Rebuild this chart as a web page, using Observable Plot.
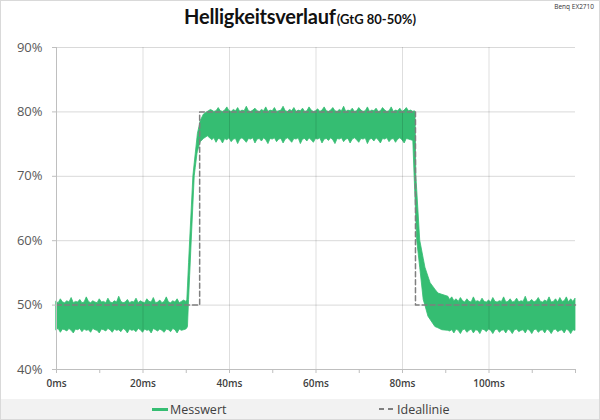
<!DOCTYPE html>
<html>
<head>
<meta charset="utf-8">
<script src="https://cdn.jsdelivr.net/npm/d3@7"></script>
<script src="https://cdn.jsdelivr.net/npm/@observablehq/plot@0.6"></script>
<style>
  html, body { margin: 0; padding: 0; background: #fff; }
  #wrap { position: relative; width: 600px; height: 420px; overflow: hidden; background: #fff; }
  #frame { position: absolute; left: 0; top: 0; width: 598px; height: 418px; border: 1px solid #d9d9d9; pointer-events: none; }
  #title { position: absolute; left: 0; top: 6px; width: 600px; text-align: center; line-height: 20px; font-family: Lato, "Open Sans", sans-serif; font-weight: bold; color: #111; white-space: nowrap; }
  #title .main { font-size: 20px; letter-spacing: -0.2px; }
  #title .sub { font-size: 13px; margin-left: 1px; }
  #note { position: absolute; right: 6px; top: 2px; font-family: "Open Sans", sans-serif; font-size: 6.5px; color: #333; }
  #chart { position: absolute; left: 0; top: 36px; }
  #legend { position: absolute; left: 1px; top: 399px; width: 598px; height: 20px; background: #f2f2f2; font-family: "Open Sans", sans-serif; font-size: 12.5px; color: #404040; }
  .item { position: absolute; top: 0; height: 20px; display: flex; align-items: center; }
  .sw { display: inline-block; width: 16px; margin-right: 2px; }
</style>
</head>
<body>
<div id="wrap">
  <div id="title"><span class="main">Helligkeitsverlauf</span><span class="sub">(GtG 80-50%)</span></div>
  <div id="note">Benq EX2710</div>
  <div id="chart"></div>
  <div id="legend">
    <div class="item" style="left:151px"><span class="sw" style="height:3px;background:#35bd72"></span>Messwert</div>
    <div class="item" style="left:378px"><span class="sw" style="height:2px;background:repeating-linear-gradient(90deg,#7f7f7f 0 5px,transparent 5px 9px)"></span>Ideallinie</div>
  </div>
  <div id="frame"></div>
</div>
<script>
// Measured signal envelope (lower / upper brightness in %), sampled every 0.5 ms on the flat parts
const sampleStep = 0.5;
// 0 .. 29.5 ms (at 50%)
const preStart = 0;
const preHi = [50.5,50.3,50.9,50.4,50.3,50.6,50.4,51.1,50.3,50.5,50.4,50.8,50.3,50.4,51.2,50.5,50.3,50.6,50.4,50.3,50.9,50.4,50.5,50.3,51.0,50.4,50.3,50.6,50.4,51.3,50.5,50.3,50.4,50.8,50.3,50.5,50.4,51.0,50.3,50.6,50.4,50.3,50.9,50.5,50.4,51.1,50.3,50.4,50.7,50.3,50.5,51.2,50.4,50.3,50.6,50.4,50.9,50.3,50.5,50.7];
const preLo = [46.1,46.3,45.7,46.2,46.1,45.9,46.3,46.0,45.6,46.2,46.1,46.3,45.8,46.2,46.0,46.1,45.7,46.3,46.1,46.0,45.6,46.2,46.1,45.9,46.3,46.1,45.7,46.2,46.0,46.1,45.8,46.3,46.1,45.6,46.2,46.0,46.1,45.8,46.3,46.1,45.7,46.2,46.0,46.1,45.6,46.3,46.1,45.9,46.2,46.0,45.7,46.2,46.1,45.8,46.3,46.1,45.6,46.2,46.0,46.1];
// rising edge
const riseT  = [30.0,30.25,30.4,30.65,30.9,31.27,31.65,31.96,32.2,32.6,32.7,33.2,33.35,34.1,35.0,35.7];
const riseLo = [46.2,46.4,46.6,50.8,54.5,60.0,65.5,70.0,71.3,73.5,73.8,75.0,75.3,75.8,76.2,75.8];
const riseHi = [50.5,50.8,52.9,56.5,60.0,64.9,70.0,72.0,73.5,76.0,76.6,78.1,78.6,79.6,80.0,80.3];
// 36 .. 82 ms (at 80%)
const topStart = 36;
const topHi = [80.2,80.0,80.1,80.6,80.1,80.0,80.2,80.7,80.1,80.0,80.3,80.1,80.6,80.0,80.2,80.1,80.8,80.1,80.0,80.2,80.5,80.1,80.0,80.3,80.1,80.7,80.0,80.2,80.1,80.6,80.0,80.1,80.2,80.8,80.1,80.0,80.3,80.1,80.6,80.0,80.2,80.1,80.5,80.0,80.1,80.7,80.2,80.0,80.1,80.4,80.0,80.2,80.7,80.1,80.0,80.2,80.6,80.1,80.0,80.3,80.1,80.8,80.0,80.2,80.1,80.5,80.0,80.1,80.6,80.2,80.0,80.1,80.7,80.0,80.2,80.1,80.5,80.0,80.1,80.6,80.2,80.0,80.1,80.7,80.0,80.2,80.1,80.5,80.0,80.2,80.6,80.1,80.2];
const topLo = [75.6,75.9,75.2,75.8,75.7,75.1,75.8,75.6,75.9,75.3,75.7,75.8,75.0,75.7,75.9,75.6,75.2,75.8,75.7,75.9,75.1,75.7,75.8,75.4,75.9,75.6,75.0,75.8,75.7,75.9,75.3,75.7,75.8,75.1,75.7,75.9,75.6,75.2,75.8,75.7,75.9,75.0,75.7,75.8,75.4,75.9,75.6,75.2,75.8,75.7,75.9,75.1,75.7,75.8,75.5,75.9,75.6,75.0,75.8,75.7,75.9,75.3,75.7,75.8,75.1,75.7,75.9,75.6,75.2,75.8,75.7,75.9,75.0,75.7,75.8,75.4,75.9,75.6,75.1,75.8,75.7,75.9,75.3,75.7,75.8,75.2,75.7,75.9,75.6,75.1,75.8,75.7,75.6];
// falling edge
const fallT  = [82.5,82.8,83.0,83.2,83.4,84.1,84.9,85.3,86.0,86.5,87.6,88.3,89.2,90.6];
const fallLo = [75.5,70.0,66.7,63.3,60.0,55.8,50.8,49.9,48.2,47.7,46.6,46.4,46.1,46.0];
const fallHi = [80.0,80.1,80.0,70.0,67.8,60.0,57.2,55.8,54.4,53.4,52.4,51.8,51.6,51.3];
// 91 .. 120 ms (at 50%)
const postStart = 91;
const postHi = [50.8,51.2,50.6,50.9,50.5,51.1,50.6,50.4,50.9,50.5,50.4,51.2,50.5,50.6,50.4,51.0,50.5,50.4,50.7,50.4,51.1,50.5,50.4,50.6,50.5,51.2,50.4,50.5,50.9,50.4,50.5,51.0,50.4,50.6,50.5,51.3,50.4,50.5,50.8,50.4,50.6,51.1,50.5,50.4,50.7,50.5,51.2,50.4,50.5,50.9,50.4,51.1,50.5,50.6,51.2,50.4,50.9,50.5,51.0];
const postLo = [45.9,46.1,45.6,46.2,46.0,45.5,46.1,46.2,45.7,46.0,46.2,45.6,46.1,46.0,45.5,46.2,46.1,45.8,46.2,46.0,45.5,46.1,46.2,45.7,46.0,46.1,45.6,46.2,46.0,45.5,46.1,46.2,45.8,46.0,46.1,45.6,46.2,46.0,45.5,46.1,46.2,45.7,46.0,46.1,45.6,46.2,46.0,45.5,46.1,46.2,45.8,46.0,46.1,45.6,46.2,46.0,45.5,46.1,46.0];

// Ideal response
const idealT = [0, 33.1, 33.1, 83.0, 83.0, 120];
const idealPct = [50, 50, 80, 80, 50, 50];
// Axes
const yTicks = [40, 50, 60, 70, 80, 90];
const xLabelTicks = [0, 20, 40, 60, 80, 100];
const xMinorTicks = [0, 10, 20, 30, 40, 50, 60, 70, 80, 90, 100, 110, 120];
const xGrid = [20, 40, 60, 80, 100];
const yGrid = [50, 60, 70, 80, 90];

const green = "#35bd72";
const flat = (start, lo, hi) => lo.map((v, i) => ({t: start + i * sampleStep, lo: v, hi: hi[i]}));
const edge = (ts, lo, hi) => ts.map((t, i) => ({t, lo: lo[i], hi: hi[i]}));
const signal = [
  ...flat(preStart, preLo, preHi),
  ...edge(riseT, riseLo, riseHi),
  ...flat(topStart, topLo, topHi),
  ...edge(fallT, fallLo, fallHi),
  ...flat(postStart, postLo, postHi)
];
const ideal = idealT.map((t, i) => ({t, v: idealPct[i]}));

const chart = Plot.plot({
  width: 600,
  height: 363,
  marginTop: 11,
  marginBottom: 30,
  marginLeft: 56,
  marginRight: 25,
  x: {domain: [0, 120]},
  y: {domain: [40, 90]},
  style: {fontFamily: "'Open Sans', sans-serif", background: "transparent", overflow: "visible"},
  marks: [
    Plot.ruleY(yGrid, {stroke: "#d9d9d9", strokeWidth: 1}),
    Plot.areaY(signal, {x: "t", y1: "lo", y2: "hi", fill: green, stroke: green, strokeWidth: 0.8}),
    Plot.ruleX(xGrid, {stroke: "#000", strokeOpacity: 0.13}),
    Plot.line(ideal, {x: "t", y: "v", stroke: "#7f7f7f", strokeWidth: 1.5, strokeDasharray: "5,3"}),
    Plot.ruleX([0], {stroke: "#bfbfbf"}),
    Plot.ruleY([40], {stroke: "#bfbfbf"}),
    Plot.axisY({ticks: yTicks, tickSize: 4, tickPadding: 10, tickFormat: d => d + "%", fontSize: 13, fill: "#595959", stroke: "#bfbfbf", label: null}),
    Plot.axisX({ticks: xMinorTicks, tickSize: 4, tickFormat: () => "", stroke: "#bfbfbf", label: null}),
    Plot.axisX({ticks: xLabelTicks, tickSize: 0, tickPadding: 10, tickFormat: d => d + "ms", fontSize: 10, fontWeight: 600, fill: "#404040", label: null})
  ]
});
document.getElementById("chart").appendChild(chart);
</script>
</body>
</html>
